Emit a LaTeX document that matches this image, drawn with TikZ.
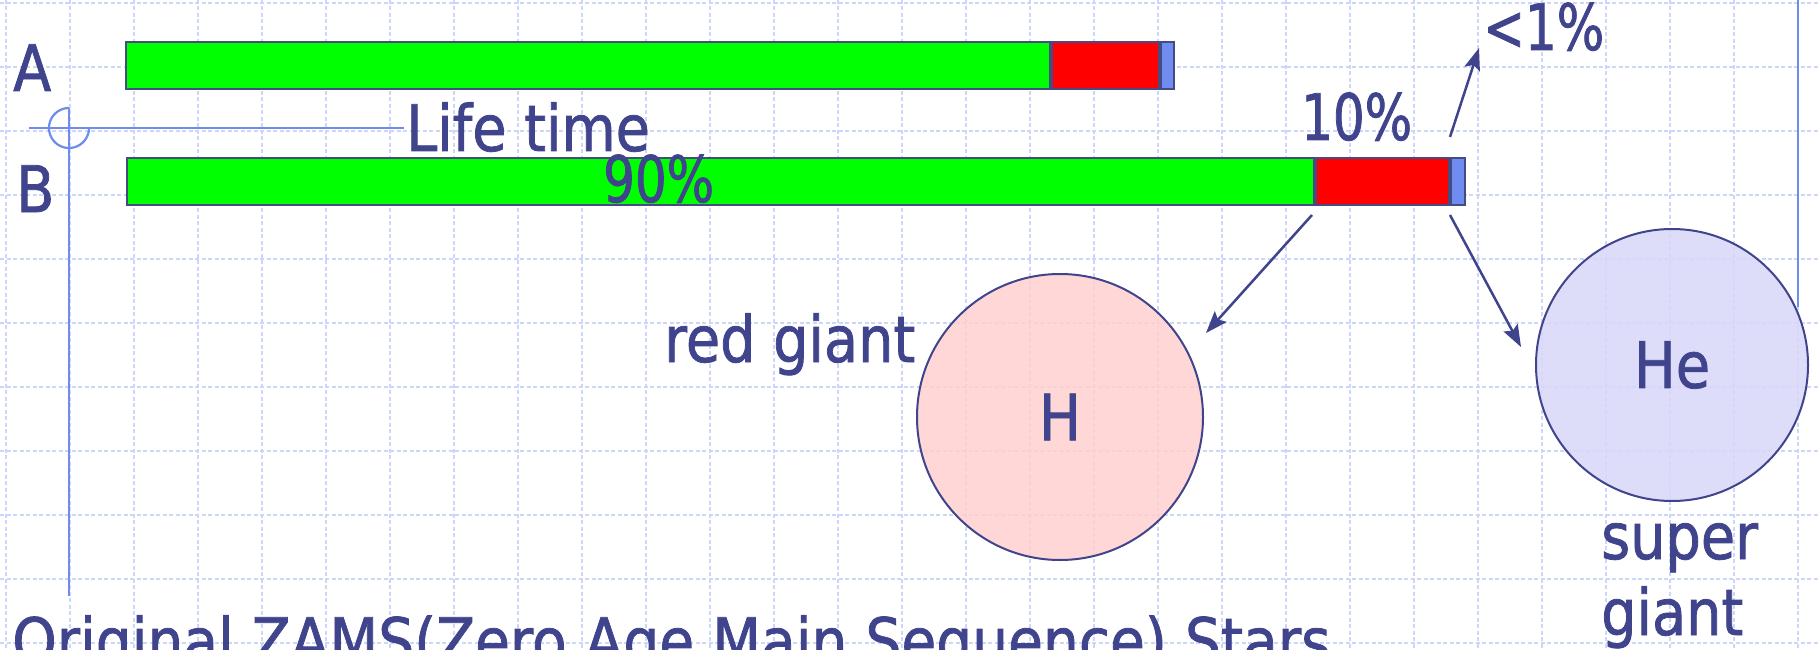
\documentclass[tikz,border=0pt]{standalone}
\usepackage{fontspec}
\setmainfont[FakeStretch=0.87,FakeBold=1.2]{DejaVu Sans}
\newfontfamily\numfont[FakeStretch=0.78,FakeBold=1.2]{DejaVu Sans}
\newfontfamily\widefont[FakeStretch=0.885,FakeBold=1.2]{DejaVu Sans}
\usetikzlibrary{arrows.meta}
\definecolor{txt}{RGB}{64,68,140}
\definecolor{barline}{RGB}{70,75,130}
\definecolor{bargreen}{RGB}{0,255,0}
\definecolor{barred}{RGB}{255,0,0}
\definecolor{barblue}{RGB}{112,140,240}
\definecolor{guideblue}{RGB}{110,140,240}
\definecolor{gridblue}{RGB}{204,214,248}
\definecolor{pinkfill}{RGB}{255,208,208}
\definecolor{lavfill}{RGB}{216,216,250}
\begin{document}
\begin{tikzpicture}[x=1pt,y=-1pt,
  lbl/.style={font=\fontsize{64}{76}\selectfont, text=txt, inner sep=0pt, anchor=base west},
  seg/.style={draw=barline, line width=2pt, minimum height=47pt, inner sep=0pt, anchor=north west},
  guide/.style={draw=guideblue, line width=2.2pt},
  gridline/.style={draw=gridblue, line width=1.2pt, dash pattern=on 4pt off 2.5pt},
  arr/.style={draw=txt, line width=2.5pt, -{Stealth[length=22pt,width=16pt,inset=4pt]}},
  star/.style={circle, draw=txt, line width=2pt, inner sep=0pt, fill opacity=0.85, text opacity=1,
    font=\fontsize{64}{76}\selectfont, text=txt}
]
\useasboundingbox (0,0) rectangle (1818,650);
\clip (0,0) rectangle (1818,650);
\fill[white] (0,0) rectangle (1818,650);
% grid
\foreach \i in {0,...,28} \draw[gridline] (6+64*\i,0) -- (6+64*\i,650);
\foreach \j in {0,...,10} \draw[gridline] (0,3+64*\j) -- (1818,3+64*\j);
% guide lines
\draw[guide] (29,128) -- (404,128);
\draw[guide] (69,108) -- (69,596);
\draw[guide] plot[domain=0:270, samples=50] ({69+20*cos(\x)},{128+20*sin(\x)});
\draw[guide] (1798,0) -- (1798,307);
% bars
\node[seg, fill=bargreen, minimum width=924pt] (Ag) at (125,41) {};
\node[seg, fill=barred, minimum width=107pt] (Ar) at (Ag.north east) {};
\node[seg, fill=barblue, minimum width=13pt] (Ab) at (Ar.north east) {};
\node[seg, fill=bargreen, minimum width=1187pt] (Bg) at (126,157) {};
\node[seg, fill=barred, minimum width=133pt] (Br) at (Bg.north east) {};
\node[seg, fill=barblue, minimum width=14pt] (Bb) at (Br.north east) {};
% stars
\node[star, fill=pinkfill, minimum size=286pt] (H) at (1060,417) {H};
\node[star, fill=lavfill, minimum size=272pt] (He) at (1672,365) {He};
% labels
\node[lbl] (lA) at (13,91) {A};
\node[lbl] (lB) at (16,212) {B};
\node[lbl] (lLife) at (406,151) {Life time};
\node[lbl] (l90) at (603,202) {\numfont 90\%};
\node[lbl] (l10) at (1301,140) {\numfont 10\%};
\node[lbl] (l1) at (1483,50) {\numfont <1\%};
\node[lbl] (lred) at (664,362) {red giant};
\node[lbl] (lsuper) at (1601,559) {super};
\node[lbl] (lgiant) at (1601,635) {giant};
\node[lbl] (lorig) at (12,664) {\widefont Original ZAMS(Zero Age Main Sequence) Stars};
% arrows
\coordinate (t1) at (1206,333);
\coordinate (t2) at (1521,347);
\coordinate (t3) at (1479,48);
\draw[arr] ([xshift=-3pt,yshift=-9pt]Bg.south east) -- (t1);
\draw[arr] ([yshift=-9pt]Br.south east) -- (t2);
\draw[arr] ([yshift=20pt]Br.north east) -- (t3);
\end{tikzpicture}
\end{document}
